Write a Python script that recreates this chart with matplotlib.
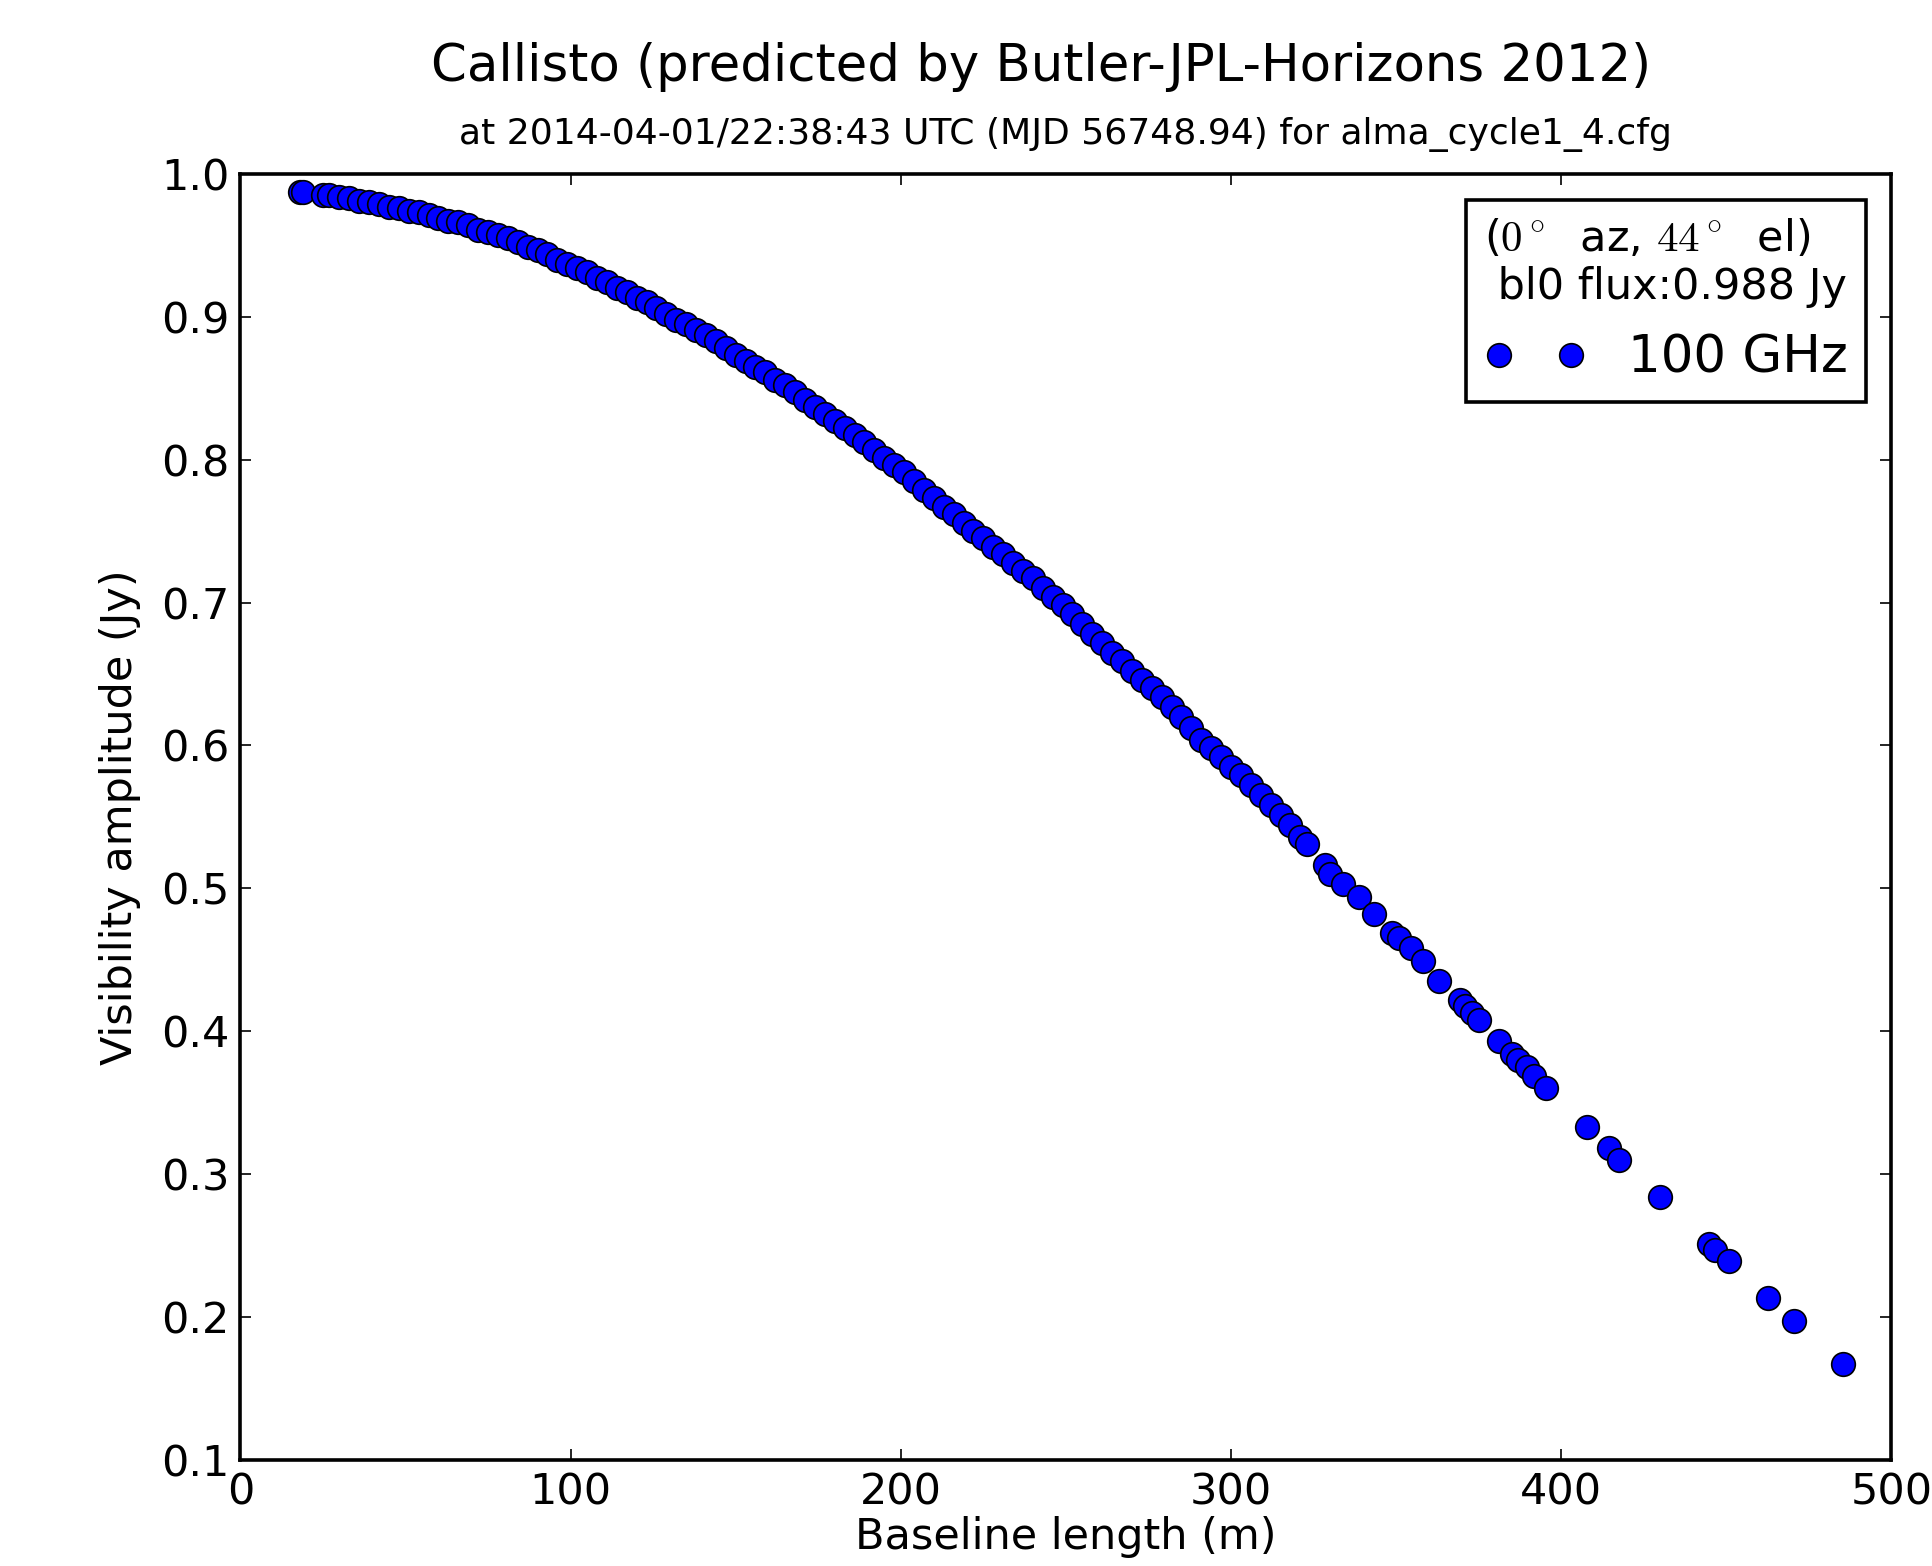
import numpy as np
import matplotlib
matplotlib.use("Agg")
import matplotlib.pyplot as plt

# baseline length (m) and visibility amplitude (Jy)
baseline = [18, 19, 25, 27, 30, 33, 36, 39, 42, 45, 48, 51, 54, 57, 60, 63, 66, 69,
            72, 75, 78, 81, 84, 87, 90, 93, 96, 99, 102, 105, 108, 111, 114, 117,
            120, 123, 126, 129, 132, 135, 138, 141, 144, 147, 150, 153, 156, 159,
            162, 165, 168, 171, 174, 177, 180, 183, 186, 189, 192, 195, 198, 201,
            204, 207, 210, 213, 216, 219, 222, 225, 228, 231, 234, 237, 240, 243,
            246, 249, 252, 255, 258, 261, 264, 267, 270, 273, 276, 279, 282, 285,
            288, 291, 294, 297, 300, 303, 306, 309, 312, 315, 318, 321, 323,
            328.4, 330, 334, 338.8, 343.3, 348.9, 351, 354.5, 358.2, 363, 369.4,
            371, 373, 375, 381.3, 385, 387, 389.5, 391.8, 395.5, 407.8, 414.6,
            417.5, 429.9, 444.8, 446.6, 450.7, 462.7, 470.5, 485.4]
amplitude = [0.987, 0.987, 0.985, 0.985, 0.984, 0.983, 0.981, 0.980, 0.979, 0.977,
             0.976, 0.974, 0.973, 0.971, 0.969, 0.967, 0.966, 0.964, 0.961, 0.959,
             0.957, 0.955, 0.952, 0.949, 0.947, 0.944, 0.940, 0.937, 0.934, 0.931,
             0.927, 0.924, 0.920, 0.917, 0.913, 0.910, 0.906, 0.902, 0.898, 0.895,
             0.891, 0.887, 0.883, 0.878, 0.873, 0.869, 0.865, 0.861, 0.856, 0.852,
             0.847, 0.842, 0.837, 0.832, 0.827, 0.822, 0.817, 0.812, 0.807, 0.801,
             0.796, 0.791, 0.785, 0.779, 0.773, 0.767, 0.762, 0.756, 0.750, 0.745,
             0.739, 0.734, 0.728, 0.722, 0.717, 0.710, 0.704, 0.698, 0.692, 0.685,
             0.678, 0.672, 0.665, 0.659, 0.652, 0.646, 0.640, 0.634, 0.627, 0.620,
             0.612, 0.604, 0.598, 0.592, 0.585, 0.579, 0.572, 0.565, 0.558, 0.551,
             0.544, 0.536, 0.531,
             0.516, 0.510, 0.503, 0.494, 0.482, 0.469, 0.465, 0.458, 0.449, 0.435,
             0.422, 0.418, 0.413, 0.408, 0.393, 0.384, 0.380, 0.375, 0.369, 0.360,
             0.333, 0.318, 0.310, 0.284, 0.251, 0.247, 0.239, 0.213, 0.197, 0.167]

plt.rcParams['mathtext.fontset'] = 'cm'
plt.rcParams['font.family'] = 'DejaVu Sans'

fig = plt.figure(figsize=(9.66, 7.83), dpi=200)
ax = fig.add_axes([0.1244, 0.0677, 0.8546, 0.8213])

ax.plot(baseline, amplitude, 'o', color='blue', markeredgecolor='black',
        markeredgewidth=0.6, markersize=8.5, linestyle='none', label='100 GHz')

ax.set_xlim(0, 500)
ax.set_ylim(0.1, 1.0)
ax.set_xticks([0, 100, 200, 300, 400, 500])
ax.set_yticks(np.arange(0.1, 1.01, 0.1))
ax.set_yticklabels(['0.1', '0.2', '0.3', '0.4', '0.5', '0.6', '0.7', '0.8', '0.9', '1.0'])
ax.tick_params(direction='in', length=4, width=0.6, top=True, right=True, labelsize=15.5, pad=4)
for s in ax.spines.values():
    s.set_linewidth(1.3)

ax.set_xlabel('Baseline length (m)', fontsize=15.5, labelpad=1)
ax.set_ylabel('Visibility amplitude (Jy)', fontsize=15.5, labelpad=7)

fig.text(0.539, 0.957, 'Callisto (predicted by Butler-JPL-Horizons 2012)',
         ha='center', va='center', fontsize=18.5)
fig.text(0.5515, 0.914, 'at 2014-04-01/22:38:43 UTC (MJD 56748.94) for alma_cycle1_4.cfg',
         ha='center', va='center', fontsize=13)

leg = ax.legend(loc='upper right', numpoints=2, fontsize=18.5, fancybox=False,
                title='($0^\\circ$  az, $44^\\circ$  el)\n bl0 flux:0.988 Jy',
                title_fontsize=15.5, framealpha=1, edgecolor='black',
                borderaxespad=0.5, handlelength=2.0, handletextpad=0.8,
                borderpad=0.35)
leg.get_frame().set_linewidth(1.3)
leg._legend_box.align = 'left'

fig.savefig('out.png', dpi=200)
